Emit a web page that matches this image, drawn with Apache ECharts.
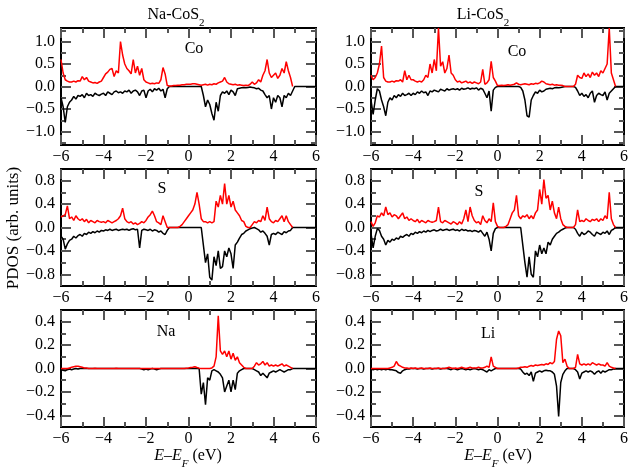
<!DOCTYPE html>
<html><head><meta charset="utf-8">
<script src="https://cdn.jsdelivr.net/npm/echarts@6/dist/echarts.min.js"></script>
<style>html,body{margin:0;padding:0;background:#fff}#c{width:631px;height:470px}</style>
</head><body><div id="c"></div>
<script>
// Energy grid: values sampled every 0.1 eV from -6.0 to 6.0
const E_START = -6, E_STEP = 0.1;

// ---- Na-CoS2, Co ----
const naCoUp = [
 0.60,0.30,0.15,0.12,0.10,0.10,0.12,0.10,0.13,0.12,
 0.22,0.15,0.20,0.12,0.10,0.08,0.09,0.07,0.10,0.12,
 0.20,0.28,0.32,0.38,0.40,0.22,0.35,0.30,1.00,0.70,
 0.50,0.40,0.35,0.28,0.60,0.30,0.45,0.25,0.40,0.15,
 0.10,0.08,0.06,0.07,0.06,0.08,0.07,0.15,0.42,0.28,
 0.02,0.01,0.01,0.02,0.02,0.03,0.03,0.04,0.04,0.05,
 0.05,0.05,0.06,0.06,0.05,0.04,0.03,0.04,0.05,0.03,
 0.05,0.04,0.06,0.05,0.08,0.10,0.12,0.20,0.10,0.06,
 0.05,0.04,0.05,0.03,0.04,0.03,0.02,0.03,0.02,0.05,
 0.10,0.05,0.08,0.15,0.10,0.25,0.35,0.60,0.30,0.20,
 0.25,0.30,0.18,0.25,0.40,0.30,0.55,0.35,0.20,0.00,
 null,null,null,null,null,null,null,null,null,null,
 null];
const naCoDn = [
 -0.25,-0.45,-0.80,-0.45,-0.35,-0.30,-0.22,-0.28,-0.20,-0.22,
 -0.18,-0.25,-0.15,-0.20,-0.18,-0.22,-0.15,-0.18,-0.20,-0.17,
 -0.15,-0.20,-0.12,-0.15,-0.18,-0.12,-0.10,-0.14,-0.12,-0.15,
 -0.10,-0.12,-0.08,-0.15,-0.10,-0.08,-0.12,-0.20,-0.10,-0.08,
 -0.25,-0.10,-0.06,-0.12,-0.05,-0.08,-0.04,-0.10,-0.06,-0.25,
 -0.05,0,0,0,0,0,0,0,0,0,
 0,0,0,0,0,0,0,-0.20,-0.45,-0.30,
 -0.40,-0.60,-0.75,-0.35,-0.55,-0.20,-0.12,-0.15,-0.10,-0.18,
 -0.08,-0.12,-0.20,-0.05,-0.04,-0.03,-0.02,-0.03,-0.02,-0.01,
 -0.02,-0.03,-0.05,-0.04,-0.08,-0.10,-0.18,-0.25,-0.20,-0.50,
 -0.25,-0.35,-0.20,-0.25,-0.45,-0.20,-0.25,-0.15,-0.20,-0.10,
 0,0,0,0,0,0,0,0,0,0,
 0];

// ---- Li-CoS2, Co ----
const liCoUp = [
 0.25,0.15,0.20,0.30,0.50,0.90,0.20,0.12,0.10,0.10,
 0.12,0.10,0.13,0.12,0.15,0.10,0.35,0.15,0.25,0.15,
 0.15,0.12,0.10,0.12,0.10,0.15,0.25,0.20,0.50,0.30,
 0.60,0.35,1.30,0.45,0.55,0.30,0.40,0.70,0.30,0.25,
 0.15,0.10,0.12,0.08,0.10,0.12,0.08,0.10,0.07,0.10,
 0.08,0.06,0.10,0.38,0.05,0.08,0.15,0.56,0.20,0.12,
 0.02,0.02,0.03,0.02,0.03,0.04,0.03,0.04,0.05,0.08,
 0.05,0.04,0.05,0.06,0.05,0.04,0.06,0.05,0.07,0.06,
 0.08,0.12,0.10,0.06,0.05,0.04,0.05,0.03,0.04,0.03,
 0.03,0.02,0.00,0.00,0.00,0.00,0.00,0.05,0.25,0.20,
 0.18,0.30,0.22,0.28,0.20,0.32,0.25,0.30,0.22,0.35,
 0.30,0.40,0.50,1.30,0.30,0.15,0.00,null,null,null,
 null];
const liCoDn = [
 -0.30,-0.62,-0.30,-0.05,-0.10,-0.30,-0.45,-0.65,-0.35,-0.25,
 -0.30,-0.20,-0.25,-0.18,-0.22,-0.15,-0.20,-0.18,-0.15,-0.20,
 -0.15,-0.18,-0.12,-0.15,-0.10,-0.14,-0.12,-0.20,-0.10,-0.12,
 -0.08,-0.10,-0.12,-0.06,-0.08,-0.10,-0.05,-0.08,-0.06,-0.05,
 -0.07,-0.05,-0.08,-0.04,-0.06,-0.05,-0.03,-0.06,-0.04,-0.05,
 -0.03,-0.08,-0.04,-0.06,-0.15,-0.25,-0.10,-0.55,-0.08,-0.02,
 0,0,0,0,0,0,0,0,0,0,
 0,-0.02,-0.10,-0.30,-0.65,-0.68,-0.30,-0.20,-0.12,-0.15,
 -0.08,-0.12,-0.10,-0.06,-0.05,-0.04,-0.05,-0.03,-0.02,-0.03,
 -0.02,-0.01,0,0,0,0,0,-0.02,-0.10,-0.20,
 -0.15,-0.22,-0.18,-0.25,-0.15,-0.10,-0.35,-0.20,-0.15,-0.18,
 -0.20,-0.12,-0.30,-0.15,-0.10,-0.05,0,0,0,0,
 0];

// ---- Na-CoS2, S ----
const naSUp = [
 0.18,0.20,0.22,0.37,0.15,0.18,0.12,0.20,0.15,0.12,
 0.15,0.10,0.14,0.08,0.12,0.10,0.08,0.12,0.10,0.09,
 0.10,0.08,0.12,0.10,0.08,0.10,0.12,0.15,0.20,0.33,
 0.15,0.10,0.08,0.10,0.06,0.08,0.05,0.07,0.10,0.08,
 0.12,0.18,0.22,0.28,0.20,0.10,0.08,0.05,0.20,0.10,
 0.00,0.00,0.00,0.00,0.00,0.00,0.02,0.05,0.10,0.15,
 0.20,0.25,0.30,0.40,0.60,0.40,0.15,0.10,0.10,0.08,
 0.10,0.08,0.10,0.45,0.35,0.55,0.40,0.75,0.40,0.55,
 0.35,0.45,0.30,0.25,0.20,0.12,0.10,0.02,0.00,0.00,
 0.05,0.10,0.08,0.12,0.10,0.20,0.12,0.35,0.15,0.10,
 0.08,0.12,0.10,0.15,0.20,0.10,0.20,0.10,0.05,0.00,
 null,null,null,null,null,null,null,null,null,null,
 null];
const naSDn = [
 -0.15,-0.20,-0.37,-0.28,-0.22,-0.20,-0.15,-0.18,-0.14,-0.12,
 -0.15,-0.10,-0.12,-0.08,-0.10,-0.07,-0.09,-0.06,-0.08,-0.05,
 -0.06,-0.04,-0.05,-0.03,-0.05,-0.04,-0.03,-0.05,-0.04,-0.03,
 -0.04,-0.03,-0.05,-0.03,-0.02,-0.04,-0.03,-0.35,-0.05,-0.03,
 -0.04,-0.05,-0.03,-0.06,-0.04,-0.05,-0.08,-0.06,-0.10,-0.12,
 -0.05,0,0,0,0,0,0,0,0,0,
 0,0,0,0,0,0,0,-0.30,-0.60,-0.45,
 -0.85,-0.90,-0.50,-0.65,-0.40,-0.70,-0.67,-0.40,-0.50,-0.35,
 -0.45,-0.70,-0.30,-0.25,-0.18,-0.12,-0.10,-0.06,-0.04,-0.02,
 -0.01,0,-0.02,-0.04,-0.08,-0.06,-0.10,-0.15,-0.30,-0.12,
 -0.10,-0.12,-0.08,-0.10,-0.12,-0.07,-0.09,-0.06,-0.05,0.00,
 0,0,0,0,0,0,0,0,0,0,
 0];

// ---- Li-CoS2, S ----
const liSUp = [
 0.10,0.02,0.08,0.20,0.18,0.25,0.20,0.35,0.22,0.25,
 0.18,0.22,0.20,0.15,0.20,0.25,0.15,0.18,0.12,0.15,
 0.12,0.10,0.14,0.08,0.12,0.10,0.08,0.12,0.10,0.09,
 0.10,0.12,0.35,0.10,0.08,0.12,0.10,0.08,0.06,0.10,
 0.08,0.05,0.10,0.06,0.15,0.30,0.10,0.35,0.20,0.12,
 0.08,0.10,0.05,0.20,0.12,0.08,0.15,0.10,0.42,0.10,
 0.02,0.00,0.00,0.00,0.02,0.05,0.15,0.25,0.30,0.55,
 0.20,0.15,0.20,0.18,0.22,0.15,0.20,0.15,0.25,0.30,
 0.65,0.40,0.82,0.50,0.55,0.30,0.45,0.25,0.15,0.35,
 0.15,0.05,0.02,0.00,0.00,0.00,0.00,0.05,0.30,0.10,
 0.12,0.10,0.15,0.12,0.10,0.14,0.12,0.15,0.10,0.15,
 0.12,0.20,0.15,0.60,0.15,0.05,0.00,null,null,null,
 null];
const liSDn = [
 -0.10,-0.35,-0.15,-0.02,-0.05,-0.15,-0.20,-0.30,-0.22,-0.25,
 -0.20,-0.22,-0.18,-0.20,-0.15,-0.17,-0.14,-0.12,-0.15,-0.10,
 -0.12,-0.08,-0.10,-0.07,-0.09,-0.06,-0.08,-0.05,-0.07,-0.05,
 -0.04,-0.06,-0.05,-0.03,-0.05,-0.04,-0.03,-0.05,-0.04,-0.03,
 -0.05,-0.04,-0.06,-0.03,-0.05,-0.04,-0.06,-0.05,-0.07,-0.05,
 -0.06,-0.08,-0.05,-0.10,-0.15,-0.08,-0.20,-0.40,-0.10,-0.02,
 0,0,0,0,0,0,0,0,0,0,
 0,0,-0.30,-0.60,-0.85,-0.50,-0.80,-0.85,-0.40,-0.50,
 -0.30,-0.45,-0.35,-0.45,-0.25,-0.30,-0.20,-0.15,-0.10,-0.08,
 -0.05,-0.03,-0.01,0,0,0,0,-0.03,-0.10,-0.15,
 -0.08,-0.12,-0.10,-0.06,-0.08,-0.12,-0.15,-0.08,-0.10,-0.12,
 -0.08,-0.10,-0.06,-0.12,-0.05,-0.03,0,0,0,0,
 0];

// ---- Na ----
const naUp = [
 0,0,0,0,0.005,0.01,0.015,0.02,0.02,0.015,
 0.01,0.005,0.005,0,0,0,0.003,0,0,0,
 0,0,0,0,0,0,0.003,0,0,0,
 0,0,0,0,0,0,0,0,0,0,
 0,0,0,0,0,0,0,0,0,0,
 0,0,0,0,0,0,0,0,0,0.003,
 0.005,0.008,0.01,0.015,0.008,0.003,0,0,0,0,
 0,0.005,0.02,0.10,0.45,0.15,0.12,0.15,0.10,0.15,
 0.08,0.13,0.07,0.10,0.05,0.03,0.01,0,0,0,
 0,0.02,0.05,0.03,0.04,0.06,0.03,0.05,0.02,0.03,
 0.02,0.03,0.02,0.03,0.04,0.02,0.03,0.02,0.01,0,
 null,null,null,null,null,null,null,null,null,null,
 null];
const naDn = [
 -0.01,-0.015,-0.02,-0.01,-0.005,-0.01,-0.005,0,-0.005,0,
 0,0,0,0,0,0,0,0,0,0,
 0,0,0,0,0,0,0,0,0,0,
 0,0,0,0,0,0,0,0,-0.005,-0.01,
 -0.005,-0.01,-0.005,0,-0.005,-0.01,-0.005,0,0,0,
 0,0,0,0,0,0,0,0,0,0,
 0,0,0,0,0,0,-0.22,-0.12,-0.31,-0.08,
 -0.10,-0.02,-0.01,-0.02,-0.03,-0.05,-0.08,-0.20,-0.15,-0.10,
 -0.20,-0.10,-0.18,-0.04,-0.02,-0.01,0,0,0,0,
 0,-0.01,-0.02,-0.03,-0.06,-0.04,-0.06,-0.08,-0.04,-0.03,
 -0.02,-0.03,-0.02,-0.01,-0.02,-0.03,-0.02,-0.01,-0.01,0,
 0,0,0,0,0,0,0,0,0,0,
 0];

// ---- Li ----
const liUp = [
 0,0,0,0,0,0,0,0,0,0.005,
 0.01,0.02,0.06,0.03,0.02,0.01,0.005,0.005,0,0.005,
 0,0.005,0,0,0.005,0,0,0,0.005,0,
 0,0,0.005,0,0,0,0.005,0.01,0.005,0,
 0.005,0,0.005,0.01,0.005,0,0.005,0.01,0.005,0.005,
 0.005,0.01,0.005,0.005,0.01,0.02,0.01,0.10,0.02,0.01,
 0,0,0,0,0,0,0,0,0,0,
 0.005,0.01,0.01,0.015,0.01,0.02,0.025,0.02,0.03,0.025,
 0.03,0.035,0.03,0.04,0.035,0.05,0.04,0.06,0.25,0.32,
 0.28,0.05,0.08,0.02,0,0,0,0.01,0.12,0.04,
 0.03,0.04,0.03,0.04,0.03,0.05,0.04,0.03,0.04,0.03,
 0.03,0.02,0.05,0.02,0.01,0.005,0,null,null,null,
 null];
const liDn = [
 -0.005,-0.01,-0.005,-0.01,-0.005,-0.01,-0.005,-0.01,-0.005,-0.01,
 -0.01,-0.015,-0.02,-0.035,-0.04,-0.02,-0.01,-0.005,-0.005,0,
 0,0,-0.005,0,0,-0.005,0,0,0,-0.005,
 0,0,0,-0.005,0,0,0,-0.005,-0.01,0,
 -0.005,-0.01,-0.005,0,-0.005,-0.01,-0.005,-0.01,-0.005,0,
 -0.005,-0.01,-0.005,-0.01,-0.02,-0.03,-0.01,-0.02,-0.01,0,
 0,0,0,0,0,0,0,0,0,0,
 0,-0.005,-0.03,-0.05,-0.04,-0.06,-0.03,-0.11,-0.04,-0.03,
 -0.02,-0.03,-0.02,-0.015,-0.02,-0.02,-0.03,-0.05,-0.15,-0.41,
 -0.12,-0.05,-0.02,0,0,0,0,-0.01,-0.03,-0.09,
 -0.04,-0.03,-0.02,-0.03,-0.02,-0.03,-0.05,-0.03,-0.02,-0.04,
 -0.02,-0.03,-0.02,-0.01,-0.01,-0.005,0,0,0,0,
 0];

// Tick values
const xMajor = [-6,-4,-2,0,2,4,6];
const xMinor = [-5,-3,-1,1,3,5];
const xLabelStep = 2;
const coMajor = [-1.0,-0.5,0,0.5,1.0];
const coMinor = [-1.25,-0.75,-0.25,0.25,0.75,1.25];
const sMajor = [-0.8,-0.4,0,0.4,0.8];
const sMinor = [-0.6,-0.2,0.2,0.6];
const atMajor = [-0.4,-0.2,0,0.2,0.4];
const atMinor = [-0.3,-0.1,0.1,0.3];
const coRange = [-1.3, 1.3];
const sRange = [-1.0, 1.0];
const atRange = [-0.5, 0.5];
// label steps (major spacing) and fine grid for placing the labels
const coStep = 0.5, sStep = 0.4, atStep = 0.2;
const coFine = 0.05, sFine = 0.2, atFine = 0.1;

const titles = ['Na-CoS', 'Li-CoS'];
const titleSub = '2';
const panelNames = ['Co','Co','S','S','Na','Li'];
const yTitle = 'PDOS (arb. units)';

// ---- layout ----
const FONT = 'Liberation Serif';
const cols = [{left:61, width:255}, {left:371, width:256}];
const rowsTop = [28, 169, 310];
const H = 117;
const panels = [
  {up:naCoUp, dn:naCoDn, range:coRange, major:coMajor, minor:coMinor, step:coStep, fine:coFine, lab:[194,49]},
  {up:liCoUp, dn:liCoDn, range:coRange, major:coMajor, minor:coMinor, step:coStep, fine:coFine, lab:[517,52]},
  {up:naSUp,  dn:naSDn,  range:sRange,  major:sMajor,  minor:sMinor,  step:sStep,  fine:sFine,  lab:[162,189]},
  {up:liSUp,  dn:liSDn,  range:sRange,  major:sMajor,  minor:sMinor,  step:sStep,  fine:sFine,  lab:[479,192]},
  {up:naUp,   dn:naDn,   range:atRange, major:atMajor, minor:atMinor, step:atStep, fine:atFine, lab:[166,332]},
  {up:liUp,   dn:liDn,   range:atRange, major:atMajor, minor:atMinor, step:atStep, fine:atFine, lab:[488,334]}
];

function toXY(arr){ return arr.map((v,i)=>[+(E_START + i*E_STEP).toFixed(2), v]); }
function sgn(v, d){ const s = Math.abs(v).toFixed(d); return (v < -1e-9 ? '\u2212' : '') + s; }
function onStep(v, step){ return Math.abs(Math.round(v/step)*step - v) < 1e-6; }

const tickStyle = {color:'#555', width:2};
const labStyle = {color:'#000', fontSize:16, fontFamily:FONT};
const grids = [], xAxes = [], yAxes = [], series = [], graphics = [];

panels.forEach((p, g) => {
  const c = cols[g % 2], top = rowsTop[Math.floor(g/2)];
  grids.push({left:c.left, top:top, width:c.width, height:H, show:true,
    borderColor:'#000', borderWidth:2, backgroundColor:'rgba(0,0,0,0)', containLabel:false});
  const xBase = {gridIndex:g, type:'value', min:-6, max:6, splitLine:{show:false},
    axisLine:{show:false, onZero:false}};
  // 0: main x (labels via interval)
  xAxes.push(Object.assign({}, xBase, {position:'bottom', interval:xLabelStep,
    axisTick:{inside:true, length:10, lineStyle:tickStyle},
    axisLabel:Object.assign({formatter:v=>sgn(v,0), margin:4, showMinLabel:true, showMaxLabel:true}, labStyle)}));
  xAxes.push(Object.assign({}, xBase, {position:'bottom',
    axisTick:{inside:true, length:5, customValues:xMinor, lineStyle:tickStyle}, axisLabel:{show:false}}));
  xAxes.push(Object.assign({}, xBase, {position:'top',
    axisTick:{inside:true, length:10, customValues:xMajor, lineStyle:tickStyle}, axisLabel:{show:false}}));
  xAxes.push(Object.assign({}, xBase, {position:'top',
    axisTick:{inside:true, length:5, customValues:xMinor, lineStyle:tickStyle}, axisLabel:{show:false}}));
  const yBase = {gridIndex:g, type:'value', min:p.range[0], max:p.range[1], splitLine:{show:false},
    axisLine:{show:false, onZero:false}};
  // 0: main y, labels on a fine interval grid, only multiples of the major step shown
  yAxes.push(Object.assign({}, yBase, {position:'left', interval:p.fine,
    axisTick:{show:false},
    axisLabel:Object.assign({formatter:v=>onStep(v,p.step) ? sgn(v,1) : '', margin:6,
      showMinLabel:true, showMaxLabel:true, hideOverlap:false}, labStyle)}));
  yAxes.push(Object.assign({}, yBase, {position:'left',
    axisTick:{inside:true, length:10, customValues:p.major, lineStyle:tickStyle}, axisLabel:{show:false}}));
  yAxes.push(Object.assign({}, yBase, {position:'left',
    axisTick:{inside:true, length:5, customValues:p.minor, lineStyle:tickStyle}, axisLabel:{show:false}}));
  yAxes.push(Object.assign({}, yBase, {position:'right',
    axisTick:{inside:true, length:10, customValues:p.major, lineStyle:tickStyle}, axisLabel:{show:false}}));
  yAxes.push(Object.assign({}, yBase, {position:'right',
    axisTick:{inside:true, length:5, customValues:p.minor, lineStyle:tickStyle}, axisLabel:{show:false}}));

  series.push({type:'line', xAxisIndex:g*4, yAxisIndex:g*5, data:toXY(p.dn), symbol:'none',
    lineStyle:{color:'#000', width:1.5}, z:2, animation:false, connectNulls:false});
  series.push({type:'line', xAxisIndex:g*4, yAxisIndex:g*5, data:toXY(p.up), symbol:'none',
    lineStyle:{color:'#ff0000', width:1.5}, z:3, animation:false, connectNulls:false});

  graphics.push({type:'text', x:p.lab[0], y:p.lab[1], z:10,
    style:{text:panelNames[g], fill:'#000', fontSize:16, fontFamily:FONT,
      align:'center', verticalAlign:'middle', textAlign:'center', textVerticalAlign:'middle'}});
});

const subRich = {
  a:{fontSize:16, fontFamily:FONT, lineHeight:28, fill:'#000', color:'#000'},
  s:{fontSize:11, fontFamily:FONT, lineHeight:11, verticalAlign:'bottom', fill:'#000', color:'#000'}
};
[[176,15],[483,15]].forEach((pos, i) => {
  graphics.push({type:'text', x:pos[0], y:pos[1], z:10,
    style:{text:'{a|' + titles[i] + '}{s|' + titleSub + '}', rich:subRich,
      align:'center', verticalAlign:'middle', textAlign:'center', textVerticalAlign:'middle'}});
});
const xRich = {
  i:{fontSize:16, fontFamily:FONT, fontStyle:'italic', lineHeight:28, fill:'#000', color:'#000'},
  n:{fontSize:16, fontFamily:FONT, lineHeight:28, fill:'#000', color:'#000'},
  f:{fontSize:11, fontFamily:FONT, fontStyle:'italic', lineHeight:11, verticalAlign:'bottom', fill:'#000', color:'#000'}
};
[[188,456],[498,456]].forEach(pos => {
  graphics.push({type:'text', x:pos[0], y:pos[1], z:10,
    style:{text:'{i|E}{n|\u2013}{i|E}{f|F}{n| (eV)}', rich:xRich,
      align:'center', verticalAlign:'middle', textAlign:'center', textVerticalAlign:'middle'}});
});
graphics.push({type:'text', x:14, y:228, rotation:Math.PI/2, z:10,
  style:{text:yTitle, fill:'#000', fontSize:17, fontFamily:FONT,
    align:'center', verticalAlign:'middle', textAlign:'center', textVerticalAlign:'middle'}});

const chart = echarts.init(document.getElementById('c'), null, {renderer:'canvas'});
chart.setOption({
  animation:false,
  backgroundColor:'#fff',
  textStyle:{fontFamily:FONT},
  grid:grids, xAxis:xAxes, yAxis:yAxes, series:series, graphic:graphics
});
</script>
</body></html>
